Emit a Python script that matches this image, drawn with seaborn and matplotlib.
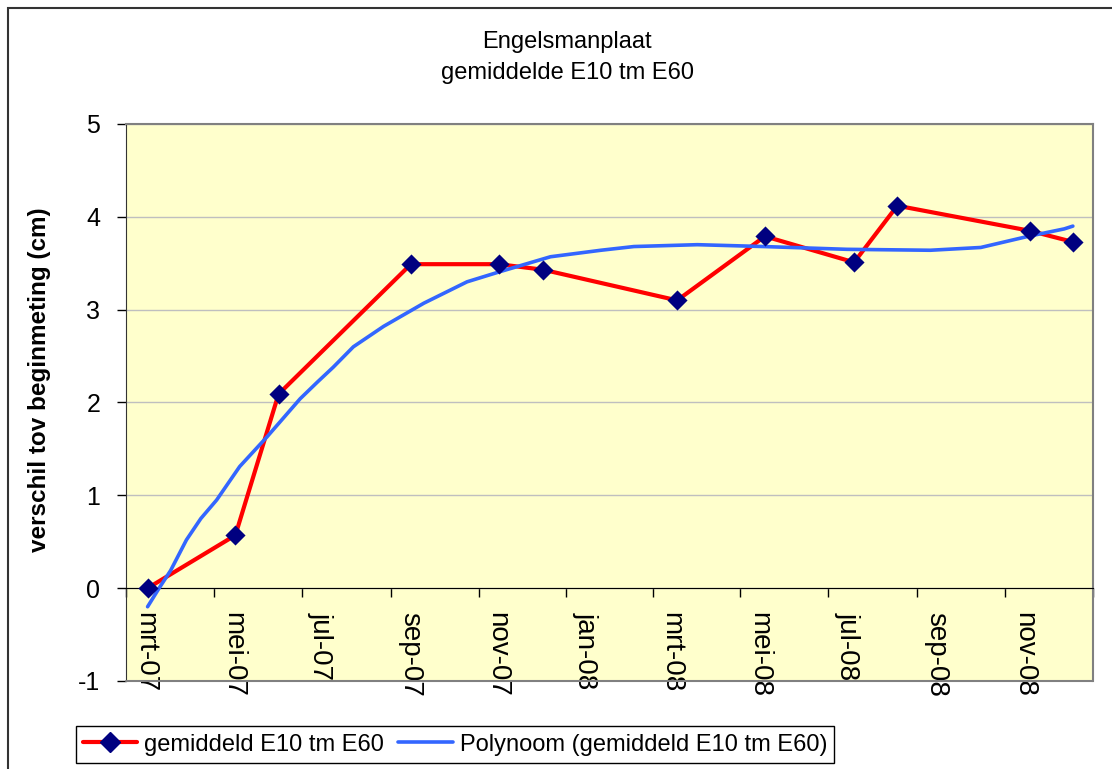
import matplotlib
matplotlib.use("Agg")
import pandas as pd
import matplotlib.pyplot as plt
from matplotlib.lines import Line2D
from matplotlib.patches import Rectangle
from matplotlib.transforms import ScaledTranslation
import seaborn as sns

# meetdata (gelezen uit de grafiek)
meet_datums = ["2007-03-16", "2007-05-16", "2007-06-15", "2007-09-15", "2007-11-15", "2007-12-16",
               "2008-03-18", "2008-05-18", "2008-07-19", "2008-08-18", "2008-11-18", "2008-12-18"]
gemiddeld = [0.00, 0.57, 2.09, 3.49, 3.49, 3.43, 3.10, 3.79, 3.51, 4.12, 3.85, 3.73]

trend_datums = ["2007-03-16", "2007-03-24", "2007-04-01", "2007-04-12", "2007-04-22", "2007-05-03",
                "2007-05-19", "2007-06-07", "2007-06-30", "2007-07-12", "2007-07-23", "2007-08-06",
                "2007-08-27", "2007-09-24", "2007-10-24", "2007-11-16", "2007-12-21", "2008-01-25",
                "2008-02-17", "2008-04-01", "2008-05-17", "2008-07-14", "2008-09-10", "2008-10-15",
                "2008-11-17", "2008-12-12", "2008-12-18"]
trend_waarden = [-0.20, 0.00, 0.19, 0.52, 0.75, 0.95,
                 1.31, 1.63, 2.04, 2.22, 2.38, 2.60,
                 2.82, 3.07, 3.30, 3.41, 3.57, 3.64,
                 3.68, 3.70, 3.68, 3.65, 3.64, 3.67,
                 3.79, 3.87, 3.90]

tick_datums = ["2007-03-01", "2007-05-01", "2007-07-01", "2007-09-01", "2007-11-01", "2008-01-01",
               "2008-03-01", "2008-05-01", "2008-07-01", "2008-09-01", "2008-11-01", "2009-01-01"]
tick_labels = ["mrt-07", "mei-07", "jul-07", "sep-07", "nov-07", "jan-08",
               "mrt-08", "mei-08", "jul-08", "sep-08", "nov-08", ""]

serie_naam = "gemiddeld E10 tm E60"
trend_naam = "Polynoom (gemiddeld E10 tm E60)"

sns.set_style("white")
plt.rcParams["font.family"] = ["Liberation Sans", "DejaVu Sans"]
plt.rcParams["text.color"] = "black"
plt.rcParams["axes.labelcolor"] = "black"
plt.rcParams["xtick.color"] = "black"
plt.rcParams["ytick.color"] = "black"

df = pd.DataFrame({"datum": pd.to_datetime(meet_datums), "waarde": gemiddeld})
tr = pd.DataFrame({"datum": pd.to_datetime(trend_datums), "waarde": trend_waarden})

rood = "#FF0000"
blauw = "#3366FF"
navy = "#000080"

fig = plt.figure(figsize=(11.12, 7.69), dpi=100)
ax = fig.add_axes([126 / 1112, 1 - 681 / 769, (1093 - 126) / 1112, (681 - 124) / 769])
ax.set_facecolor("#FFFFCC")

sns.lineplot(data=df, x="datum", y="waarde", color=rood, lw=3, ax=ax, zorder=3)
sns.lineplot(data=tr, x="datum", y="waarde", color=blauw, lw=2.6, ax=ax, zorder=4)
sns.scatterplot(data=df, x="datum", y="waarde", marker="D", s=105, color=navy,
                edgecolor=navy, linewidth=0, zorder=5, ax=ax)

# x-as loopt door 0, kader van plotvlak grijs (eerst, want dit reset de ticks)
ax.spines["bottom"].set_position(("data", 0))
ax.spines["bottom"].set_color("black")
ax.spines["left"].set_color("#333333")
for s in ["top", "right"]:
    ax.spines[s].set_color("#808080")
    ax.spines[s].set_linewidth(1.5)
ax.axhline(-1, color="#808080", lw=1.5, clip_on=False, zorder=6)

ax.set_xlim(pd.Timestamp("2007-03-01"), pd.Timestamp("2009-01-01"))
ax.set_ylim(-1, 5)
ax.set_yticks(range(-1, 6))
ax.set_yticklabels([str(v) for v in range(-1, 6)], fontsize=18)
ax.set_xticks(pd.to_datetime(tick_datums))
ax.set_xticklabels(tick_labels, rotation=-90, fontsize=20, va="top", ha="center")

ax.yaxis.grid(True, color="#BFBFBF", lw=1)
ax.xaxis.grid(False)
ax.tick_params(axis="x", direction="out", length=6.5, width=1, color="black",
               labelcolor="black", pad=10.8, bottom=True)
ax.tick_params(axis="y", direction="out", length=6.5, width=1, color="black",
               labelcolor="black", pad=12, left=True)

for lbl in ax.get_xticklabels():
    lbl.set_transform(lbl.get_transform() + ScaledTranslation(0.19, 0, fig.dpi_scale_trans))

ax.set_xlabel("")
ax.set_ylabel("verschil tov beginmeting (cm)", fontsize=17.5, fontweight="bold", color="black")
ax.yaxis.label.set_verticalalignment("center")
ax.yaxis.set_label_coords((40 - 126) / 967, (681 - 380) / 557)

fig.text(0.51, 1 - 42 / 769, "Engelsmanplaat", ha="center", va="center", fontsize=17)
fig.text(0.51, 1 - 73 / 769, "gemiddelde E10 tm E60", ha="center", va="center", fontsize=17)

handles = [Line2D([], [], color=rood, lw=3, marker="D", markersize=10, mfc=navy, mec=navy),
           Line2D([], [], color=blauw, lw=2.6)]
leg = fig.legend(handles, [serie_naam, trend_naam], loc="center",
                 bbox_to_anchor=((78 + 832) / 2 / 1112, 1 - (723 + 766) / 2 / 769),
                 ncol=2, fontsize=17, frameon=True, fancybox=False, edgecolor="black",
                 framealpha=1, handlelength=2.3, handletextpad=0.3, columnspacing=0.6,
                 borderpad=0.3)
leg.get_frame().set_linewidth(1)

# kader rond de hele grafiek
fig.patches.append(Rectangle((8 / 1112, -0.1), 1.2, 1.1 - 8 / 769, transform=fig.transFigure,
                             fill=False, edgecolor="#333333", lw=1.5))

fig.savefig("out.png", dpi=100)
